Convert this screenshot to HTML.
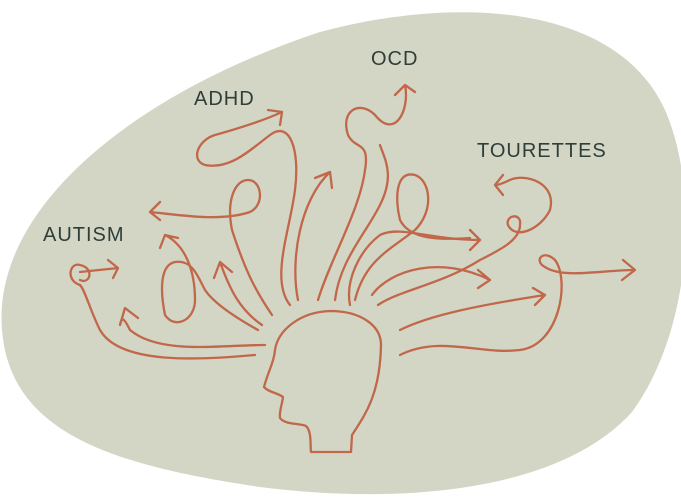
<!DOCTYPE html><html><head><style>html,body{margin:0;padding:0;background:#fff}svg{display:block}text{font-family:"Liberation Sans",sans-serif;font-size:20px;fill:#2f3e38;letter-spacing:1px}</style></head><body>
<svg width="681" height="497" viewBox="0 0 681 497" xmlns="http://www.w3.org/2000/svg">
<path d="M2,330 C-8,210 130,95 320,32 C470,-8 620,10 665,110 C700,190 692,330 632,412 C560,492 400,505 260,487 C110,465 10,432 2,330 Z" fill="#d3d6c5"/>
<text x="43" y="241">AUTISM</text>
<text x="194" y="105">ADHD</text>
<text x="371" y="65">OCD</text>
<text x="477" y="157">TOURETTES</text>
<g fill="none" stroke="#c1674a" stroke-width="2.3" stroke-linecap="round" stroke-linejoin="round">
<path d="M330,311 C300,312 278,330 275,350 C274,362 268,372 264,387 C268,392 278,393 283,397 C282,405 279,412 280,418 C285,425 300,423 306,426 C312,432 310,445 311,452 L351,452 L352,435 C365,415 380,395 381,345 C381,325 360,311 330,311 Z"/>
<path d="M255,355 C200,360 120,365 100,330 C90,310 85,290 80,285 C65,280 70,262 80,265 C95,268 90,285 80,280"/>
<path d="M80,272 L118,268 M108,260 L118,268 L113,278"/>
<path d="M265,345 C220,345 160,355 130,330 C125,320 122,315 120,325 M120,325 L125,308 L138,318"/>
<path d="M258,330 C240,320 215,305 205,290 C195,270 190,260 175,262 C160,265 160,290 165,315 C175,330 195,320 195,300 C195,270 185,245 165,235 M165,235 L160,248 M165,235 L178,238"/>
<path d="M262,325 C240,310 230,290 220,262 M220,262 L214,278 M220,262 L232,272"/>
<path d="M272,315 C255,290 245,270 232,230 C226,200 235,180 248,180 C262,180 265,205 250,212 C220,222 180,215 150,212 M150,212 L160,202 M150,212 L160,220"/>
<path d="M290,305 C270,280 290,230 295,190 C300,150 290,120 270,135 C250,150 230,170 205,165 C190,160 198,140 215,135 C240,128 265,120 282,112 M282,112 L268,110 M282,112 L280,125"/>
<path d="M298,300 C290,260 300,200 330,172 M330,172 L315,178 M330,172 L332,188"/>
<path d="M318,300 C330,260 360,210 365,170 C370,140 355,150 348,135 C340,110 360,100 375,115 C395,140 410,110 405,85 M405,85 L395,95 M405,85 L415,92"/>
<path d="M335,300 C340,260 365,235 380,205 C395,175 385,160 380,145"/>
<path d="M350,305 C345,280 360,250 380,235 C400,225 430,240 480,240 M480,240 L470,230 M480,240 L470,250"/>
<path d="M355,300 C365,260 390,250 415,230 C435,210 430,180 415,175 C395,170 395,200 400,220 C410,240 440,240 470,238"/>
<path d="M372,295 C390,270 440,255 490,280 M490,280 L478,270 M490,280 L478,288"/>
<path d="M378,305 C400,290 440,285 480,260 C500,250 520,240 520,225 C522,212 505,215 508,225 C515,240 540,230 550,210 C555,190 540,180 525,178 C510,176 505,185 495,185 M495,185 L503,175 M495,185 L503,195"/>
<path d="M400,330 C430,315 480,305 545,295 M545,295 L533,288 M545,295 L535,305"/>
<path d="M400,355 C440,335 480,355 520,350 C560,345 570,280 555,260 C545,250 535,258 542,265 C560,280 600,270 635,270 M635,270 L623,260 M635,270 L622,280"/>
</g>
</svg></body></html>
